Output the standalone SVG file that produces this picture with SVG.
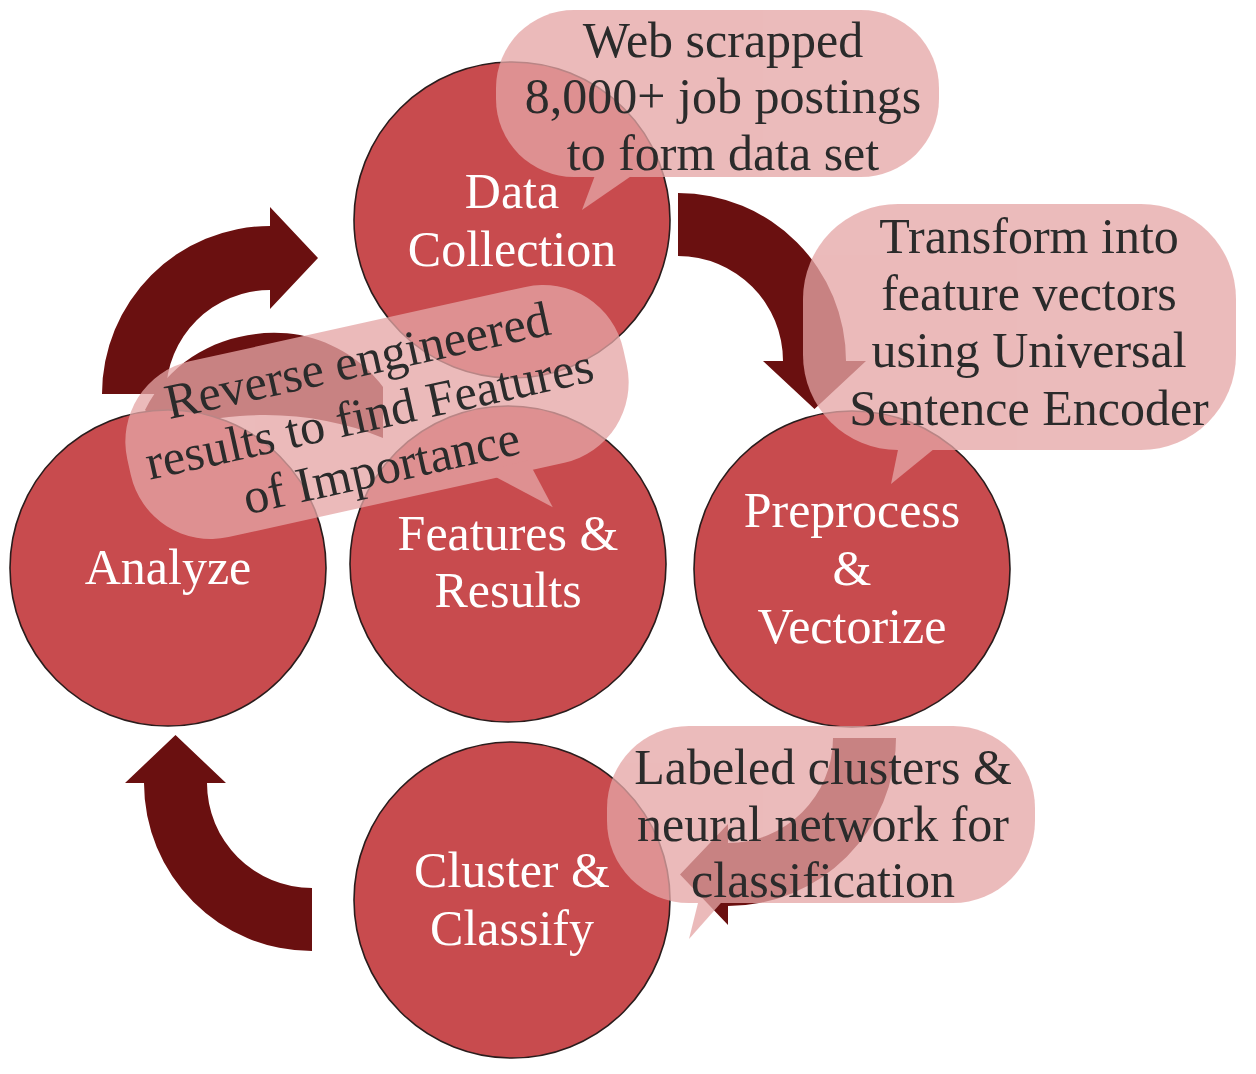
<svg xmlns="http://www.w3.org/2000/svg" width="1256" height="1074" viewBox="0 0 1256 1074">
<style>
.arrow{fill:#6A1010}
.node circle{fill:#C84B4E;stroke:#2a1c1c;stroke-width:1.6}
.node text{fill:#ffffff;font-family:"Liberation Serif","DejaVu Serif",serif;font-size:50px;text-anchor:middle}
.bubble .shape{opacity:0.764}
.bubble .shape *{fill:#E5A6A6}
.bubble text{fill:#2b2b2b;font-family:"Liberation Serif","DejaVu Serif",serif;font-size:50px;text-anchor:middle}
</style>
<rect width="1256" height="1074" fill="#ffffff"/>
<g id="connectors">
<path class="arrow" d="M102,394 A168,168 0 0 1 270,226 L270,207 L318,258 L270,309 L270,290 A104,104 0 0 0 166,394 Z"/>
<path class="arrow" d="M678,193 A168,168 0 0 1 846,361 L866,361 L814.5,409 L763,361 L783,361 A105,105 0 0 0 678,256 Z"/>
<path class="arrow" d="M896,738 A168,168 0 0 1 728,906 L728,925 L680,874.5 L728,824 L728,843 A105,105 0 0 0 833,738 Z"/>
<path class="arrow" d="M312,951 A168,168 0 0 1 144,783 L125,783 L175.5,735 L226,783 L207,783 A105,105 0 0 0 312,888 Z"/>
<path class="arrow" d="M145,410 C175,350 240,325 300,335 C335,342 365,362 383,387 L383,438 C340,420 290,412 240,416 C210,418 185,424 165,432 Z"/>
</g>
<g id="node-data-collection" class="node">
<circle cx="512" cy="220" r="158"/>
<text x="512" y="208">Data</text>
<text x="512" y="266">Collection</text>
</g>
<g id="node-preprocess" class="node">
<circle cx="852" cy="569" r="158"/>
<text x="852" y="527">Preprocess</text>
<text x="852" y="585">&amp;</text>
<text x="852" y="643">Vectorize</text>
</g>
<g id="node-cluster" class="node">
<circle cx="512" cy="900" r="158"/>
<text x="512" y="887">Cluster &amp;</text>
<text x="512" y="945">Classify</text>
</g>
<g id="node-analyze" class="node">
<circle cx="168" cy="568" r="158"/>
<text x="168" y="584">Analyze</text>
</g>
<g id="node-features" class="node">
<circle cx="508" cy="564" r="158"/>
<text x="508" y="550">Features &amp;</text>
<text x="508" y="607">Results</text>
</g>
<g id="callout-web" class="bubble">
<g class="shape">
<rect x="496" y="10" width="443" height="167" rx="78"/>
<polygon points="597,170 582,210 640,170"/>
</g>
<text x="723" y="57">Web scrapped</text>
<text x="723" y="113">8,000+ job postings</text>
<text x="723" y="170">to form data set</text>
</g>
<g id="callout-transform" class="bubble">
<g class="shape">
<rect x="803" y="204" width="433" height="246" rx="95"/>
<polygon points="900,440 891,484 945,440"/>
</g>
<text x="1029" y="253">Transform into</text>
<text x="1029" y="310">feature vectors</text>
<text x="1029" y="367">using Universal</text>
<text x="1029" y="425">Sentence Encoder</text>
</g>
<g id="callout-labeled" class="bubble">
<g class="shape">
<rect x="607" y="726" width="428" height="177" rx="82"/>
<polygon points="700,895 689,939 728,895"/>
</g>
<text x="823" y="784">Labeled clusters &amp;</text>
<text x="823" y="841">neural network for</text>
<text x="823" y="897">classification</text>
</g>
<g id="callout-reverse" class="bubble" transform="translate(377,412) rotate(-12.5)">
<g class="shape">
<rect x="-254" y="-90" width="508" height="180" rx="82"/>
<polygon points="91,80 151,131 137,80"/>
</g>
<text x="-8" y="-38">Reverse engineered</text>
<text x="-8" y="17">results to find Features</text>
<text x="-8" y="72">of Importance</text>
</g>
</svg>
